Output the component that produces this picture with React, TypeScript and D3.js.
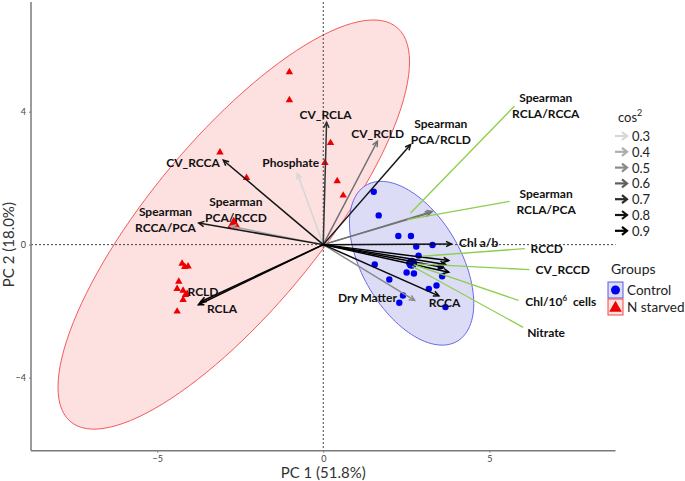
import React, { useEffect, useRef } from 'react';
import * as d3 from 'd3';

// Individuals (PC1, PC2 scores)
const controlX = [1.52, 1.67, 2.26, 2.64, 2.8, 3.29, 1.55, 2.51, 2.73, 1.99, 3.58, 3.41, 3.18, 2.4, 2.29, 3.68, 3.53, 2.87];
const controlY = [1.59, 0.88, 0.26, 0.26, -0.06, -0.01, -0.6, -0.84, -0.87, -1.05, -0.95, -1.23, -1.33, -1.53, -1.75, -1.88, -0.65, -0.33];
const starvedX = [-1.02, -1.02, -3.11, -2.31, 0.22, 0.05, 0.42, 0.6, -4.25, -4.17, -4.07, -4.35, -4.4, -4.22, -4.15, -4.1, -4.22, -4.4];
const starvedY = [5.19, 4.35, 2.78, 2.01, 3.06, 2.46, 1.91, 1.48, -0.57, -0.67, -0.65, -1.11, -1.33, -1.38, -1.51, -1.48, -1.66, -2.01];

// Variables (loadings) and their cos2
const varNames = ['CV_RCLA', 'CV_RCLD', 'Spearman PCA/RCLD', 'Phosphate', 'CV_RCCA', 'Spearman RCCA/PCA', 'Spearman PCA/RCCD',
  'RCLD', 'RCLA', 'Spearman RCLA/RCCA', 'Spearman RCLA/PCA', 'Chl a/b', 'RCCD', 'CV_RCCD', 'Chl/10^6 cells', 'Nitrate', 'RCCA', 'Dry Matter'];
const varPC1 = [0.1, 1.63, 2.63, -0.78, -3.01, -3.75, -2.79, -3.69, -3.76, 3.28, 3.23, 3.86, 3.78, 3.78, 3.68, 3.62, 3.48, 2.75];
const varPC2 = [3.68, 3.11, 3.01, 2.14, 2.54, 0.65, 0.55, -1.72, -1.81, 1.0, 0.96, 0.02, -0.48, -0.83, -0.6, -0.69, -1.54, -1.68];
const varCos2 = [0.68, 0.56, 0.8, 0.3, 0.8, 0.78, 0.42, 0.9, 0.9, 0.55, 0.55, 0.82, 0.9, 0.9, 0.9, 0.9, 0.85, 0.5];

const xTicks = [-5, 0, 5];
const yTicks = [-4, 0, 4];
const cos2Legend = [0.3, 0.4, 0.5, 0.6, 0.7, 0.8, 0.9];
const cos2Colors = ['#d6d6d6', '#adadad', '#8a8a8a', '#5e5e5e', '#2a2a2a', '#141414', '#000000'];
const groups = ['Control', 'N starved'];

// label placement (data units): centre of text block, optional leader line
const labelLayout: { name: string; lines: string[]; x: number; y: number; from?: [number, number]; to?: [number, number] }[] = [
  { name: 'CV_RCLA', lines: ['CV_RCLA'], x: 0.07, y: 3.92 },
  { name: 'CV_RCLD', lines: ['CV_RCLD'], x: 1.64, y: 3.34 },
  { name: 'Spearman PCA/RCLD', lines: ['Spearman', 'PCA/RCLD'], x: 3.54, y: 3.4 },
  { name: 'Phosphate', lines: ['Phosphate'], x: -0.98, y: 2.47 },
  { name: 'CV_RCCA', lines: ['CV_RCCA'], x: -3.92, y: 2.47 },
  { name: 'Spearman RCCA/PCA', lines: ['Spearman', 'RCCA/PCA'], x: -4.75, y: 0.75 },
  { name: 'Spearman PCA/RCCD', lines: ['Spearman', 'PCA/RCCD'], x: -2.63, y: 1.05 },
  { name: 'RCLD', lines: ['RCLD'], x: -3.62, y: -1.41 },
  { name: 'RCLA', lines: ['RCLA'], x: -3.05, y: -1.93 },
  { name: 'Spearman RCLA/RCCA', lines: ['Spearman', 'RCLA/RCCA'], x: 6.7, y: 4.19, from: [5.76, 4.17], to: [2.63, 0.95] },
  { name: 'Spearman RCLA/PCA', lines: ['Spearman', 'RCLA/PCA'], x: 6.71, y: 1.3, from: [5.61, 1.3], to: [2.53, 0.75] },
  { name: 'Chl a/b', lines: ['Chl a/b'], x: 4.68, y: 0.05 },
  { name: 'RCCD', lines: ['RCCD'], x: 6.73, y: -0.13, from: [6.07, -0.12], to: [2.98, -0.35] },
  { name: 'CV_RCCD', lines: ['CV_RCCD'], x: 7.21, y: -0.75, from: [6.21, -0.75], to: [2.83, -0.58] },
  { name: 'Chl/10^6 cells', lines: ['Chl/10^6 cells'], x: 7.15, y: -1.71, from: [5.88, -1.68], to: [2.72, -0.6] },
  { name: 'Nitrate', lines: ['Nitrate'], x: 6.71, y: -2.63, from: [6.02, -2.49], to: [2.68, -0.65] },
  { name: 'RCCA', lines: ['RCCA'], x: 3.65, y: -1.74 },
  { name: 'Dry Matter', lines: ['Dry Matter'], x: 1.33, y: -1.59 },
];

const W = 685;
const H = 481;
const FONT = 'Lato, "Liberation Sans", sans-serif';

// normal-theory 95% ellipse (like stat_ellipse type = "norm")
function ellipsePath(xs: number[], ys: number[]): [number, number][] {
  const n = xs.length;
  const mx = d3.mean(xs)!;
  const my = d3.mean(ys)!;
  let sxx = 0, syy = 0, sxy = 0;
  for (let i = 0; i < n; i++) {
    sxx += (xs[i] - mx) ** 2;
    syy += (ys[i] - my) ** 2;
    sxy += (xs[i] - mx) * (ys[i] - my);
  }
  sxx /= n - 1; syy /= n - 1; sxy /= n - 1;
  const d = n - 1;
  const fq = (d / 2) * (Math.pow(0.05, -2 / d) - 1); // qf(0.95, 2, d)
  const r = Math.sqrt(2 * fq);
  const l11 = Math.sqrt(sxx);
  const l21 = sxy / l11;
  const l22 = Math.sqrt(syy - l21 * l21);
  return d3.range(0, 361, 3).map((deg) => {
    const t = (deg * Math.PI) / 180;
    const u = Math.cos(t), v = Math.sin(t);
    return [mx + r * l11 * u, my + r * (l21 * u + l22 * v)];
  });
}

export default function App() {
  const svgRef = useRef<SVGSVGElement>(null);

  useEffect(() => {
    if (!svgRef.current) return;
    const svg = d3.select(svgRef.current);
    svg.selectAll('*').remove();

    const x = d3.scaleLinear().domain([-8.8, 8.8]).range([31, 615.5]);
    const y = d3.scaleLinear().domain([-6.2, 7.3]).range([450.7, 2]);
    const col = d3.scaleLinear<string>().domain(cos2Legend).range(cos2Colors).clamp(true);

    const line = d3.line<[number, number]>().x((d) => x(d[0])).y((d) => y(d[1]));

    // ellipses
    svg.append('path').attr('d', line(ellipsePath(starvedX, starvedY)))
      .attr('fill', '#fde0e0').attr('stroke', '#f04a4a').attr('stroke-width', 0.9);
    svg.append('path').attr('d', line(ellipsePath(controlX, controlY)))
      .attr('fill', '#dcdcf7').attr('stroke', '#5a5ae0').attr('stroke-width', 0.9);

    // zero lines
    svg.append('line').attr('x1', x(-8.8)).attr('x2', x(8.8)).attr('y1', y(0)).attr('y2', y(0))
      .attr('stroke', '#444').attr('stroke-dasharray', '2,2').attr('stroke-width', 1);
    svg.append('line').attr('x1', x(0)).attr('x2', x(0)).attr('y1', y(7.3)).attr('y2', y(-6.2))
      .attr('stroke', '#444').attr('stroke-dasharray', '2,2').attr('stroke-width', 1);

    // axes
    const gx = svg.append('g').attr('transform', `translate(0,${y(-6.2)})`)
      .call(d3.axisBottom(x).tickValues(xTicks).tickSize(2).tickFormat(d3.format('d')));
    const gy = svg.append('g').attr('transform', `translate(${x(-8.8)},0)`)
      .call(d3.axisLeft(y).tickValues(yTicks).tickSize(2).tickFormat(d3.format('d')));
    [gx, gy].forEach((g) => {
      g.select('.domain').attr('stroke', '#7a7a7a').attr('stroke-width', 1.5);
      g.selectAll('.tick line').attr('stroke', '#7a7a7a');
      g.selectAll('.tick text').attr('fill', '#444').attr('font-size', 9).attr('font-family', FONT);
    });
    gx.select('.domain').attr('d', `M${x(-8.8)},0H${x(8.8)}`);
    gy.select('.domain').attr('d', `M0,${y(7.3)}V${y(-6.2)}`);

    svg.append('text').attr('x', x(0)).attr('y', 478).attr('text-anchor', 'middle')
      .attr('font-family', FONT).attr('font-size', 15).attr('fill', '#333').text('PC 1 (51.8%)');
    svg.append('text').attr('transform', `translate(14,${y(0)}) rotate(-90)`).attr('text-anchor', 'middle')
      .attr('font-family', FONT).attr('font-size', 15).attr('fill', '#333').text('PC 2 (18.0%)');

    // points
    const tri = d3.symbol(d3.symbolTriangle);
    svg.append('g').selectAll('path').data(d3.range(starvedX.length)).enter().append('path')
      .attr('d', tri.size(24)())
      .attr('transform', (i) => `translate(${x(starvedX[i])},${y(starvedY[i])})`)
      .attr('fill', '#ee0000');
    svg.append('g').selectAll('circle').data(d3.range(controlX.length)).enter().append('circle')
      .attr('cx', (i) => x(controlX[i])).attr('cy', (i) => y(controlY[i])).attr('r', 3.2)
      .attr('fill', '#0000ee');
    svg.append('path').attr('d', d3.symbol(d3.symbolTriangle, 80)())
      .attr('transform', `translate(${x(d3.mean(starvedX)!)},${y(d3.mean(starvedY)!)})`).attr('fill', '#ee0000');
    svg.append('circle').attr('cx', x(d3.mean(controlX)!)).attr('cy', y(d3.mean(controlY)!)).attr('r', 5.5)
      .attr('fill', '#0000ee');

    // arrows
    const arrows = svg.append('g');
    const order = d3.range(varNames.length).sort((a, b) => varCos2[a] - varCos2[b]);
    order.forEach((i) => {
      const x0 = x(0), y0 = y(0);
      const x1 = x(varPC1[i]), y1 = y(varPC2[i]);
      const ang = Math.atan2(y1 - y0, x1 - x0);
      const hl = 6, ha = Math.PI / 7;
      const c = col(varCos2[i]);
      arrows.append('line').attr('x1', x0).attr('y1', y0).attr('x2', x1).attr('y2', y1)
        .attr('stroke', c).attr('stroke-width', 1.5);
      arrows.append('path')
        .attr('d', `M${x1 - hl * Math.cos(ang - ha)},${y1 - hl * Math.sin(ang - ha)}L${x1},${y1}L${x1 - hl * Math.cos(ang + ha)},${y1 - hl * Math.sin(ang + ha)}`)
        .attr('fill', 'none').attr('stroke', c).attr('stroke-width', 1.5);
    });

    // leader lines
    labelLayout.filter((l) => l.from).forEach((l) => {
      svg.append('line').attr('x1', x(l.from![0])).attr('y1', y(l.from![1]))
        .attr('x2', x(l.to![0])).attr('y2', y(l.to![1]))
        .attr('stroke', '#8ccf4d').attr('stroke-width', 1.3);
    });

    // labels
    labelLayout.forEach((l) => {
      const n = l.lines.length;
      l.lines.forEach((s, k) => {
        const ty = y(l.y) + (k - (n - 1) / 2) * 15.5 + 4.5;
        const t = svg.append('text').attr('text-anchor', 'middle').attr('font-family', FONT)
          .attr('font-weight', 'bold').attr('font-size', 12).attr('fill', '#111')
          .attr('x', x(l.x)).attr('y', ty);
        if (s.includes('^6')) {
          const [a, b] = s.split('^6');
          t.append('tspan').text(a);
          t.append('tspan').attr('font-size', 8).attr('dy', -4.5).text('6');
          t.append('tspan').attr('dy', 4.5).text('\u00a0' + b);
        } else {
          t.text(s);
        }
      });
    });

    // cos2 legend
    const lg = svg.append('g').attr('transform', 'translate(615,0)');
    const ttl = lg.append('text').attr('x', 3).attr('y', 122).attr('font-family', FONT).attr('font-size', 13).attr('fill', '#222');
    ttl.append('tspan').text('cos');
    ttl.append('tspan').attr('font-size', 9).attr('dy', -6).text('2');
    cos2Legend.forEach((v, k) => {
      const cy = 136 + k * 15.8;
      const c = col(v);
      lg.append('line').attr('x1', 0).attr('x2', 12).attr('y1', cy).attr('y2', cy).attr('stroke', c).attr('stroke-width', 2.2);
      lg.append('path').attr('d', `M7,${cy - 4}L12,${cy}L7,${cy + 4}`).attr('fill', 'none').attr('stroke', c).attr('stroke-width', 2.2);
      lg.append('text').attr('x', 17).attr('y', cy).attr('dominant-baseline', 'central')
        .attr('font-family', FONT).attr('font-size', 13).attr('fill', '#222').text(d3.format('.1f')(v));
    });

    // groups legend
    const gg = svg.append('g').attr('transform', 'translate(608,0)');
    gg.append('text').attr('x', 3).attr('y', 274).attr('font-family', FONT).attr('font-size', 14).attr('fill', '#222').text('Groups');
    groups.forEach((gname, k) => {
      const top = 282 + k * 17;
      const isCtrl = k === 0;
      gg.append('rect').attr('x', 0).attr('y', top).attr('width', 15).attr('height', 16)
        .attr('fill', isCtrl ? '#dcdcf7' : '#fde0e0').attr('stroke', isCtrl ? '#5a5ae0' : '#f04a4a').attr('stroke-width', 1);
      if (isCtrl) {
        gg.append('circle').attr('cx', 7.5).attr('cy', top + 8).attr('r', 4.5).attr('fill', '#0000ee');
      } else {
        gg.append('path').attr('d', d3.symbol(d3.symbolTriangle, 70)()).attr('transform', `translate(7.5,${top + 9})`).attr('fill', '#ee0000');
      }
      gg.append('text').attr('x', 19).attr('y', top + 8).attr('dominant-baseline', 'central')
        .attr('font-family', FONT).attr('font-size', 13.5).attr('fill', '#222').text(gname);
    });
  }, []);

  return (
    <svg ref={svgRef} width={W} height={H} style={{ position: 'absolute', left: 0, top: 0, background: '#fff' }} />
  );
}
